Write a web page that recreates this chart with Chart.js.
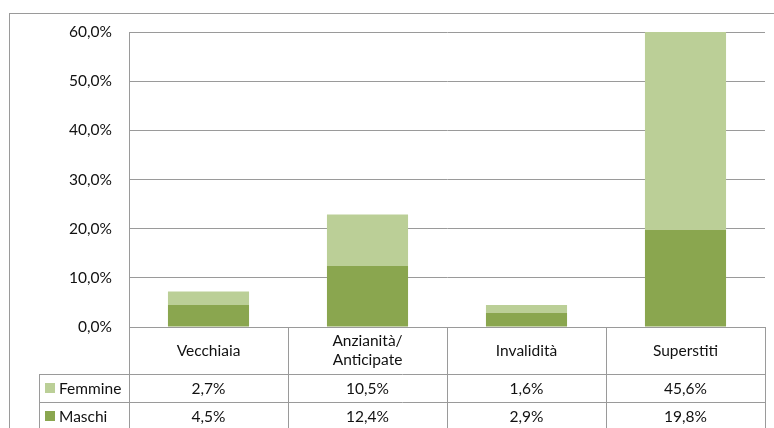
<!DOCTYPE html>
<html>
<head>
<meta charset="utf-8">
<script src="https://cdn.jsdelivr.net/npm/chart.js@4.4.1/dist/chart.umd.min.js"></script>
<style>
  html, body { margin: 0; padding: 0; background: #fff; }
  #wrap { position: relative; width: 774px; height: 428px; }
</style>
</head>
<body>
<div id="wrap"><canvas id="c" width="774" height="428"></canvas></div>
<script>
const categories = ["Vecchiaia", ["Anzianità/", "Anticipate"], "Invalidità", "Superstiti"];
const seriesNames = ["Maschi", "Femmine"];
const maschi = [4.5, 12.4, 2.9, 19.8];
const femmine = [2.7, 10.5, 1.6, 45.6];
const yTicks = [0, 10, 20, 30, 40, 50, 60];

const DARK = "#8AA64F";
const LIGHT = "#BBCF97";
const LINE = "#9a9a9a";
const FONT = "Lato, 'Open Sans', sans-serif";
const FS = 15.5;

function fmt(v) { return v.toFixed(1).replace('.', ',') + '%'; }

const tablePlugin = {
  id: 'dataTable',
  beforeDraw(chart) {
    const ctx = chart.ctx;
    ctx.save();
    ctx.strokeStyle = LINE;
    ctx.lineWidth = 1;
    ctx.strokeRect(9.5, 13.5, 800, 500);
    ctx.restore();
  },
  afterDraw(chart) {
    const ctx = chart.ctx;
    const ca = chart.chartArea;
    const xs = chart.scales.x;
    const n = chart.data.labels.length;
    const colW = (ca.right - ca.left) / n;
    const H = chart.height;
    const r1 = ca.bottom + 47, r2 = r1 + 28, r3 = r2 + 28;
    const legLeft = 39;
    ctx.save();
    ctx.strokeStyle = LINE;
    ctx.lineWidth = 1;
    const px = v => Math.round(v) + 0.5;
    ctx.beginPath();
    // vertical lines
    for (let i = 0; i <= n; i++) {
      const x = px(ca.left + i * colW);
      ctx.moveTo(x, i === 0 ? ca.top : ca.bottom);
      ctx.lineTo(x, H + 5);
    }
    ctx.moveTo(px(legLeft), r1);
    ctx.lineTo(px(legLeft), H + 5);
    // horizontal lines
    [r1, r2, r3].forEach(y => {
      ctx.moveTo(legLeft, px(y));
      ctx.lineTo(ca.right + 1, px(y));
    });
    ctx.stroke();

    ctx.fillStyle = "#111";
    ctx.font = FS + "px " + FONT;
    ctx.textAlign = "center";
    ctx.textBaseline = "middle";
    // header
    const hMid = (ca.bottom + r1) / 2;
    chart.data.labels.forEach((lab, i) => {
      const cx = xs.getPixelForValue(i);
      const lines = Array.isArray(lab) ? lab : [lab];
      const lh = 19;
      lines.forEach((t, k) => {
        ctx.fillText(t, cx, hMid + (k - (lines.length - 1) / 2) * lh);
      });
    });
    // rows: Femmine then Maschi
    const rows = [
      { name: seriesNames[1], color: LIGHT, data: femmine, y: (r1 + r2) / 2 },
      { name: seriesNames[0], color: DARK, data: maschi, y: (r2 + r3) / 2 }
    ];
    rows.forEach(r => {
      r.data.forEach((v, i) => {
        ctx.textAlign = "center";
        ctx.fillText(fmt(v), xs.getPixelForValue(i), r.y + 1);
      });
      ctx.fillStyle = r.color;
      ctx.fillRect(45, Math.round(r.y - 5), 10, 10);
      ctx.fillStyle = "#111";
      ctx.textAlign = "left";
      ctx.fillText(r.name, 59, r.y + 1);
    });
    ctx.restore();
  }
};

new Chart(document.getElementById('c'), {
  type: 'bar',
  data: {
    labels: categories,
    datasets: [
      { label: seriesNames[0], data: maschi, backgroundColor: DARK, borderWidth: 0, categoryPercentage: 1, barPercentage: 0.51 },
      { label: seriesNames[1], data: femmine, backgroundColor: LIGHT, borderWidth: 0, categoryPercentage: 1, barPercentage: 0.51 }
    ]
  },
  options: {
    responsive: false,
    animation: false,
    devicePixelRatio: 1,
    layout: { padding: { top: 32, right: 9, left: 0, bottom: 0 } },
    plugins: { legend: { display: false }, tooltip: { enabled: false } },
    scales: {
      x: {
        stacked: true,
        grid: { display: false },
        border: { display: false },
        ticks: { display: false },
        afterFit(s) { s.height = 101; }
      },
      y: {
        stacked: true,
        min: 0, max: 60,
        afterBuildTicks(s) { s.ticks = yTicks.map(v => ({ value: v })); },
        grid: { color: LINE, drawTicks: false, lineWidth: 1 },
        border: { display: true, color: LINE },
        ticks: {
          padding: 17,
          color: "#111",
          font: { family: FONT, size: FS },
          callback: v => fmt(v)
        },
        afterFit(s) { s.width = 129; }
      }
    }
  },
  plugins: [tablePlugin]
});
</script>
</body>
</html>
